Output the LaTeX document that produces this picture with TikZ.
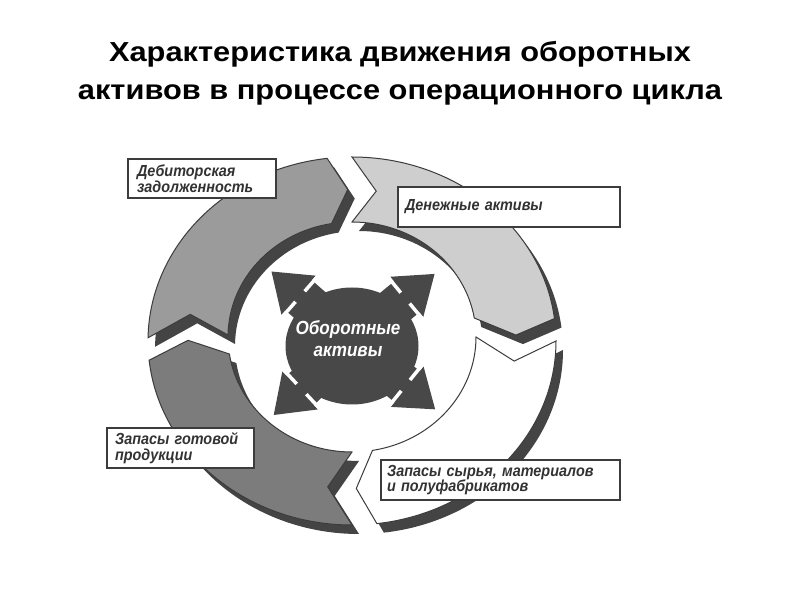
\documentclass[tikz,border=0pt]{standalone}
\usepackage{fontspec}
\setmainfont{Liberation Sans}
\newfontfamily\titlefont[FakeStretch=1.12]{Liberation Sans}
\newfontfamily\condfont[FakeStretch=0.9]{Liberation Sans}
\usetikzlibrary{shapes.geometric}
\definecolor{debc}{RGB}{155,155,155}
\definecolor{denc}{RGB}{206,206,206}
\definecolor{gotc}{RGB}{124,124,124}
\definecolor{shadc}{RGB}{68,68,68}
\definecolor{edgec}{RGB}{60,60,60}
\definecolor{corec}{RGB}{72,72,72}
\definecolor{txtc}{RGB}{50,50,50}
\newcommand\segpath[2]{([shift={(352,259)}]#1:204 and 184) arc[start angle=#1, end angle={#2+7}, x radius=204, y radius=184] -- ([shift={(352,261)}]{#2+1.5}:164 and 149.5) -- ([shift={(352,263)}]{#2+9.5}:124 and 115) arc[start angle={#2+9.5}, end angle=#1, x radius=124, y radius=115] -- ([shift={(352,261)}]{#1-8.5}:164 and 149.5) -- cycle}
\newcommand\arrowshape{(40,-20) -- (71,-20) -- (71,-26) -- (107,0) -- (71,26) -- (71,20) -- (40,20) -- cycle}
\begin{document}
\begin{tikzpicture}[x=1pt,y=1pt,
  seg/.style={draw=edgec, line width=1},
  lbl/.style={draw=edgec, line width=1.2, fill=white, inner sep=0, align=left,
    font=\condfont\fontsize{16}{15.5}\selectfont\bfseries\itshape, text=txtc},
  ttl/.style={font=\titlefont\fontsize{27.5}{30}\selectfont\bfseries, anchor=base},
  coretext/.style={font=\condfont\fontsize{19}{22}\selectfont\bfseries\itshape, text=white, anchor=base}]
\useasboundingbox[fill=white] (0,0) rectangle (800,600);
% title
\node[ttl] (t1) at (400,538) {Характеристика движения оборотных};
\node[ttl] (t2) at (400,500) {активов в процессе операционного цикла};
% shadows
\begin{scope}[shift={(7,-9)}]
\fill[shadc] \segpath{179}{90};
\fill[shadc] \segpath{90}{0};
\fill[shadc] \segpath{0}{-90};
\fill[shadc] \segpath{270}{179};
\end{scope}
% ring segments
\filldraw[seg, fill=debc] \segpath{179}{90};
\filldraw[seg, fill=denc] \segpath{90}{0};
\filldraw[seg, fill=white] \segpath{0}{-90};
\filldraw[seg, fill=gotc] \segpath{270}{179};
% labels
\node[lbl, minimum width=148, minimum height=39, text width=130] (deb) at (202,421.5) {Дебиторская\\задолженность};
\node[lbl, minimum width=222, minimum height=40, text width=208] (den) at (509,393) {Денежные активы};
\node[lbl, minimum width=147, minimum height=40, text width=131] (got) at (180.5,152) {Запасы готовой\\продукции};
\node[lbl, minimum width=239, minimum height=40, text width=227] (syr) at (500.5,120) {Запасы сырья, материалов\\и полуфабрикатов};
% centre arrows
\foreach \a in {138.8,39.5,223,321}{
  \fill[corec, shift={(352,258)}, rotate=\a] \arrowshape;
}
\node[ellipse, fill=corec, minimum width=133, minimum height=117, inner sep=0] (core) at (352,254) {};
\foreach \a in {138.8,39.5,223,321}{
  \draw[white, line width=3.5, shift={(352,258)}, rotate=\a] (69,-28) -- (69,-7) (69,7) -- (69,28);
}
\node[coretext] (c1) at (348,265) {Оборотные};
\node[coretext] (c2) at (348,243) {активы};
\end{tikzpicture}
\end{document}
